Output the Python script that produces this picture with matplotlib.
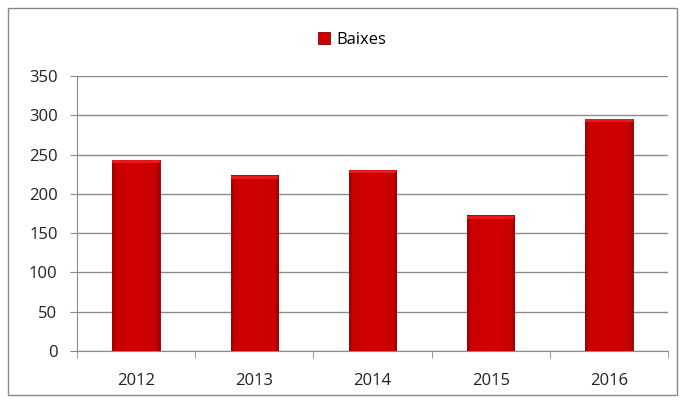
import matplotlib
matplotlib.use("Agg")
import matplotlib.pyplot as plt
import numpy as np
from matplotlib.patches import Rectangle
from matplotlib.colors import LinearSegmentedColormap

years = ["2012", "2013", "2014", "2015", "2016"]
baixes = [243, 223, 230, 172, 295]
yticks = [0, 50, 100, 150, 200, 250, 300, 350]

plt.rcParams['font.family'] = ['Open Sans', 'DejaVu Sans']

W, H = 686, 403
fig = plt.figure(figsize=(W/100, H/100), dpi=100)
ax = fig.add_axes([77/W, 1-351/H, (668-77)/W, (351-76)/H])

# figure border
fig.patches.append(Rectangle((8/W, 8/H), (677-8)/W, (395-8)/H, transform=fig.transFigure,
                             fill=False, edgecolor='#888888', linewidth=1.0))

x = np.arange(len(years))
bw = 0.4
bars = ax.bar(x, baixes, width=bw, color='#cc0000', edgecolor='#8a0000', linewidth=0.6,
              label='Baixes', zorder=3)

# bevel/gradient effect
cmap = LinearSegmentedColormap.from_list(
    'bev', [(0, '#a00000'), (0.08, '#c80000'), (0.5, '#d20000'), (0.92, '#c80000'), (1, '#a00000')])
grad = np.linspace(0, 1, 64).reshape(1, -1)
for b in bars:
    x0, w, h = b.get_x(), b.get_width(), b.get_height()
    ax.imshow(grad, cmap=cmap, extent=(x0, x0 + w, 0, h), aspect='auto', zorder=3.5,
              clip_path=b, clip_on=True)
    # lighter top cap
    ax.add_patch(Rectangle((x0, h - 4), w, 4, facecolor='#e61a1a', edgecolor='none', zorder=3.6))

ax.set_xlim(-0.5, len(years) - 0.5)
ax.set_ylim(0, 350)
ax.set_yticks(yticks)
ax.set_xticks(x)
ax.set_xticklabels(years)
ax.set_xticks(np.arange(-0.5, len(years), 1), minor=True)
ax.tick_params(axis='x', which='major', length=0, pad=16, labelsize=12, colors='#222222')
ax.tick_params(axis='x', which='minor', length=5, color='#888888')
ax.tick_params(axis='y', length=5, color='#888888', pad=9, labelsize=12, labelcolor='#222222')
ax.yaxis.grid(True, color='#8c8c8c', linewidth=1.0, zorder=0)
ax.set_axisbelow(True)
for s in ['top', 'right']:
    ax.spines[s].set_visible(False)
for s in ['left', 'bottom']:
    ax.spines[s].set_color('#8c8c8c')

leg = fig.legend(handles=[bars], labels=['Baixes'], loc='center', bbox_to_anchor=(352/W, 1-40/H),
                 frameon=False, fontsize=12, handlelength=0.7, handleheight=0.7, handletextpad=0.4)
fig.savefig('out.png', dpi=100, facecolor='white')
